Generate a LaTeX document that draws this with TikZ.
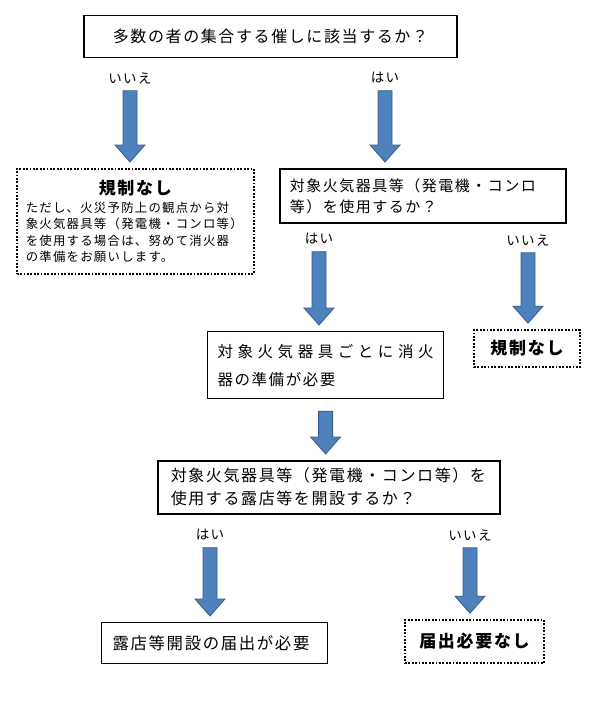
\documentclass[tikz,border=0pt]{standalone}
\usepackage{fontspec}
\setmainfont{Noto Sans CJK JP}[LetterSpace=10]
\usetikzlibrary{calc}
\definecolor{arrowblue}{RGB}{79,129,189}
\definecolor{arrowline}{RGB}{56,93,138}

% block arrow from a label (or box) down to the next box
\newcommand{\flowarrow}[3][6]{%
  \coordinate (top) at ($(#2.south)+(0,#1)$);
  \coordinate (tip) at ($(#2.south |- #3.north)+(0,-6)$);
  \draw[blockarrow] ($(top)+(-7,0)$) -- ($(top)+(7,0)$) -- ($(tip)+(7,-17)$)
    -- ($(tip)+(15,-17)$) -- (tip) -- ($(tip)+(-15,-17)$) -- ($(tip)+(-7,-17)$) -- cycle;
}

\begin{document}
\begin{tikzpicture}[x=1pt, y=-1pt,
    qbox/.style = {draw, line width=1.6pt, align=left, inner xsep=10pt},
    ansbox/.style = {draw, line width=1.2pt, align=left, inner xsep=10pt},
    nobox/.style = {draw, line width=1.6pt, dash pattern=on 1.8pt off 1.6pt},
    yn/.style = {inner sep=1pt, font=\fontsize{13.5}{15}\selectfont},
    blockarrow/.style = {fill=arrowblue, draw=arrowline, line width=0.8pt}]
  \useasboundingbox (0,0) rectangle (594,701);
  \fill[white] (0,0) rectangle (594,701);

  \node[qbox, minimum width=373pt, minimum height=42pt, font=\fontsize{16}{20}\selectfont] (q1) at (270.5,36.5) {多数の者の集合する催しに該当するか？};
  \node[yn] (n1) at (130,78) {いいえ};
  \node[yn] (y1) at (385,78) {はい};

  \node[nobox, anchor=north west, text width=219pt, minimum height=105pt, inner xsep=9pt, align=left, font=\fontsize{12.4}{16.5}\selectfont] (r1) at (16,168)
    {\makebox[\linewidth][c]{\fontsize{17}{17}\bfseries 規制なし}\\[1.5pt]
     ただし、火災予防上の観点から対\\象火気器具等（発電機・コンロ等）\\を使用する場合は、努めて消火器\\の準備をお願いします。};
  \node[qbox, anchor=north west, text width=266pt, minimum height=54pt, font=\fontsize{15}{21}\selectfont] (q2) at (279,168)
    {対象火気器具等（発電機・コンロ\\等）を使用するか？};

  \node[yn] (y2) at (319,239) {はい};
  \node[yn] (n2) at (528,240) {いいえ};
  \node[ansbox, anchor=north west, text width=216pt, minimum height=67pt, font=\fontsize{15.5}{28}\selectfont] (a1) at (207,331)
    {\makebox[216pt][s]{対\hfill 象\hfill 火\hfill 気\hfill 器\hfill 具\hfill ご\hfill と\hfill に\hfill 消\hfill 火}\\器の準備が必要};
  \node[nobox, minimum width=106pt, minimum height=37pt, font=\fontsize{17}{20}\bfseries] (r2) at (527,348.5) {規制なし};

  \node[qbox, anchor=north west, text width=316pt, minimum height=53pt, inner xsep=13pt, font=\fontsize{16}{23}\selectfont] (q3) at (157,460)
    {対象火気器具等（発電機・コンロ等）を\\使用する露店等を開設するか？};
  \node[yn] (y3) at (210,535) {はい};
  \node[yn] (n3) at (470,535) {いいえ};
  \node[ansbox, anchor=north west, text width=204pt, minimum height=41pt, inner xsep=11pt, font=\fontsize{16.4}{20}\selectfont] (a2) at (101,622) {露店等開設の届出が必要};
  \node[nobox, minimum width=139pt, minimum height=43pt, font=\fontsize{17}{20}\bfseries] (r3) at (474.5,641.5) {届出必要なし};

  \flowarrow{n1}{r1}
  \flowarrow{y1}{q2}
  \flowarrow{y2}{a1}
  \flowarrow{n2}{r2}
  \flowarrow[12]{a1}{q3}
  \flowarrow{y3}{a2}
  \flowarrow{n3}{r3}
\end{tikzpicture}
\end{document}
